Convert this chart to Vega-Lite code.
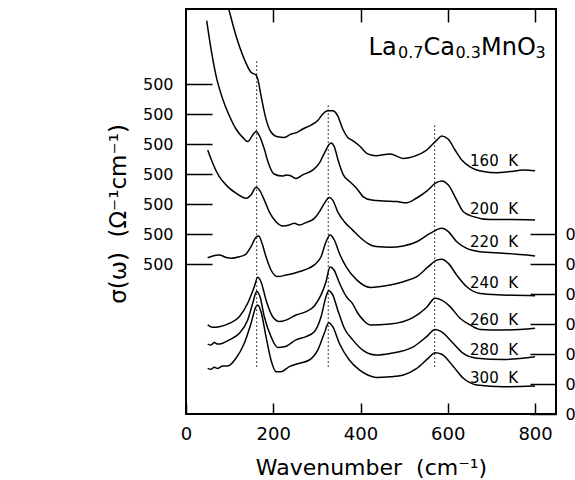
{
"$schema": "https://vega.github.io/schema/vega-lite/v6.json",
"autosize": {"type": "none"},
"padding": {"left": 186, "top": 9, "right": 19, "bottom": 66},
"width": 370,
"height": 405,
"background": "white",
"config": {
  "view": {"stroke": "black", "strokeWidth": 2},
  "axis": {"grid": false, "domain": false, "labelFont": "DejaVu Sans", "titleFont": "DejaVu Sans", "labelColor": "black", "titleColor": "black", "tickColor": "black", "tickWidth": 1.5, "titleFontWeight": "normal", "labelFlush": false},
  "text": {"font": "DejaVu Sans", "color": "black"}
},
"datasets": {
  "curves": [
    {"T":"160","x":96.0,"y":1360},{"T":"160","x":97.9,"y":1350},{"T":"160","x":114.6,"y":1261},{"T":"160","x":133.6,"y":1183},{"T":"160","x":149,"y":1139},{"T":"160","x":160.5,"y":1130},{"T":"160","x":164.4,"y":1117},{"T":"160","x":171.9,"y":1061},{"T":"160","x":183.4,"y":983},{"T":"160","x":194.8,"y":940},{"T":"160","x":210.2,"y":924},{"T":"160","x":225.3,"y":922},{"T":"160","x":240.7,"y":933},{"T":"160","x":252.1,"y":937},{"T":"160","x":267.5,"y":950},{"T":"160","x":286.5,"y":963},{"T":"160","x":301.9,"y":978},{"T":"160","x":313.4,"y":1000},{"T":"160","x":324.8,"y":1011},{"T":"160","x":336.3,"y":1011},{"T":"160","x":347.7,"y":994},{"T":"160","x":359.2,"y":950},{"T":"160","x":370.7,"y":922},{"T":"160","x":382.1,"y":911},{"T":"160","x":397.3,"y":894},{"T":"160","x":416.5,"y":867},{"T":"160","x":435.5,"y":861},{"T":"160","x":467.6,"y":867},{"T":"160","x":498.1,"y":852},{"T":"160","x":521,"y":858},{"T":"160","x":551.7,"y":880},{"T":"160","x":574.7,"y":913},{"T":"160","x":586.1,"y":927},{"T":"160","x":601.3,"y":916},{"T":"160","x":616.6,"y":880},{"T":"160","x":632,"y":847},{"T":"160","x":651,"y":824},{"T":"160","x":681.5,"y":808},{"T":"160","x":712.2,"y":804},{"T":"160","x":742.7,"y":808},{"T":"160","x":773.2,"y":813},{"T":"160","x":800,"y":811},
    {"T":"200","x":47.4,"y":1311},{"T":"200","x":57.3,"y":1217},{"T":"200","x":68.8,"y":1128},{"T":"200","x":84.1,"y":1050},{"T":"200","x":99.3,"y":994},{"T":"200","x":114.6,"y":950},{"T":"200","x":130,"y":922},{"T":"200","x":141.4,"y":908},{"T":"200","x":152.9,"y":930},{"T":"200","x":160.5,"y":942},{"T":"200","x":168,"y":928},{"T":"200","x":179.5,"y":883},{"T":"200","x":188,"y":840},{"T":"200","x":201.7,"y":800},{"T":"200","x":221.7,"y":793},{"T":"200","x":229.2,"y":797},{"T":"200","x":238.4,"y":795},{"T":"200","x":252.1,"y":785},{"T":"200","x":267.5,"y":797},{"T":"200","x":290.4,"y":813},{"T":"200","x":305.6,"y":836},{"T":"200","x":317,"y":869},{"T":"200","x":332.4,"y":903},{"T":"200","x":339.3,"y":893},{"T":"200","x":348.4,"y":847},{"T":"200","x":360.6,"y":797},{"T":"200","x":375.9,"y":774},{"T":"200","x":391.3,"y":752},{"T":"200","x":406.4,"y":724},{"T":"200","x":425.7,"y":713},{"T":"200","x":452.3,"y":710},{"T":"200","x":483,"y":708},{"T":"200","x":505.9,"y":704},{"T":"200","x":528.9,"y":720},{"T":"200","x":551.7,"y":743},{"T":"200","x":574.7,"y":772},{"T":"200","x":586.1,"y":777},{"T":"200","x":601.3,"y":763},{"T":"200","x":620.5,"y":713},{"T":"200","x":635.6,"y":674},{"T":"200","x":658.6,"y":658},{"T":"200","x":696.8,"y":648},{"T":"200","x":742.7,"y":648},{"T":"200","x":800,"y":647},
    {"T":"220","x":49.7,"y":880},{"T":"220","x":61.2,"y":836},{"T":"220","x":76.3,"y":791},{"T":"220","x":95.6,"y":758},{"T":"220","x":114.6,"y":736},{"T":"220","x":137.5,"y":719},{"T":"220","x":149,"y":730},{"T":"220","x":160.5,"y":756},{"T":"220","x":168,"y":747},{"T":"220","x":179.5,"y":713},{"T":"220","x":190.9,"y":674},{"T":"220","x":206.3,"y":641},{"T":"220","x":221.7,"y":627},{"T":"220","x":236.8,"y":630},{"T":"220","x":248.3,"y":636},{"T":"220","x":259.7,"y":630},{"T":"220","x":275.1,"y":638},{"T":"220","x":294.1,"y":652},{"T":"220","x":305.6,"y":674},{"T":"220","x":317,"y":702},{"T":"220","x":328.5,"y":722},{"T":"220","x":336.3,"y":713},{"T":"220","x":347.7,"y":674},{"T":"220","x":362.9,"y":641},{"T":"220","x":382.1,"y":613},{"T":"220","x":397.3,"y":591},{"T":"220","x":416.5,"y":569},{"T":"220","x":435.5,"y":558},{"T":"220","x":467.6,"y":556},{"T":"220","x":498.1,"y":560},{"T":"220","x":528.9,"y":574},{"T":"220","x":559.3,"y":602},{"T":"220","x":586.1,"y":619},{"T":"220","x":601.3,"y":608},{"T":"220","x":620.5,"y":574},{"T":"220","x":643.4,"y":552},{"T":"220","x":673.9,"y":541},{"T":"220","x":727.3,"y":536},{"T":"220","x":800,"y":527},
    {"T":"240","x":49.7,"y":521},{"T":"240","x":61.2,"y":527},{"T":"240","x":76.3,"y":530},{"T":"240","x":91.7,"y":522},{"T":"240","x":103.2,"y":519},{"T":"240","x":122.2,"y":524},{"T":"240","x":137.5,"y":533},{"T":"240","x":149,"y":558},{"T":"240","x":160.5,"y":589},{"T":"240","x":166.7,"y":593},{"T":"240","x":174.2,"y":569},{"T":"240","x":183.4,"y":524},{"T":"240","x":194.8,"y":480},{"T":"240","x":210.2,"y":458},{"T":"240","x":229.2,"y":463},{"T":"240","x":252.1,"y":471},{"T":"240","x":275.1,"y":482},{"T":"240","x":294.1,"y":497},{"T":"240","x":309.5,"y":524},{"T":"240","x":320.9,"y":574},{"T":"240","x":330.1,"y":597},{"T":"240","x":340,"y":580},{"T":"240","x":351.4,"y":536},{"T":"240","x":366.8,"y":491},{"T":"240","x":391.3,"y":447},{"T":"240","x":421.8,"y":422},{"T":"240","x":467.6,"y":430},{"T":"240","x":498.1,"y":441},{"T":"240","x":528.9,"y":458},{"T":"240","x":555.4,"y":491},{"T":"240","x":574.7,"y":513},{"T":"240","x":586.1,"y":516},{"T":"240","x":601.3,"y":502},{"T":"240","x":620.5,"y":463},{"T":"240","x":643.4,"y":424},{"T":"240","x":673.9,"y":402},{"T":"240","x":727.3,"y":397},{"T":"240","x":800,"y":394},
    {"T":"260","x":49.7,"y":297},{"T":"260","x":61.2,"y":289},{"T":"260","x":76.3,"y":291},{"T":"260","x":99.3,"y":302},{"T":"260","x":122.2,"y":324},{"T":"260","x":141.4,"y":369},{"T":"260","x":156.6,"y":424},{"T":"260","x":164.4,"y":456},{"T":"260","x":171.9,"y":441},{"T":"260","x":183.4,"y":380},{"T":"260","x":198.7,"y":324},{"T":"260","x":213.9,"y":308},{"T":"260","x":229.2,"y":313},{"T":"260","x":252.1,"y":330},{"T":"260","x":275.1,"y":341},{"T":"260","x":294.1,"y":360},{"T":"260","x":309.5,"y":397},{"T":"260","x":320.9,"y":441},{"T":"260","x":330.1,"y":490},{"T":"260","x":339.3,"y":480},{"T":"260","x":350.7,"y":440},{"T":"260","x":366.8,"y":393},{"T":"260","x":382.1,"y":367},{"T":"260","x":392,"y":340},{"T":"260","x":406.4,"y":313},{"T":"260","x":421.8,"y":297},{"T":"260","x":467.6,"y":300},{"T":"260","x":521,"y":322},{"T":"260","x":551.7,"y":356},{"T":"260","x":570.8,"y":386},{"T":"260","x":582.2,"y":382},{"T":"260","x":605.2,"y":358},{"T":"260","x":628.1,"y":319},{"T":"260","x":651,"y":297},{"T":"260","x":673.9,"y":282},{"T":"260","x":727.3,"y":280},{"T":"260","x":800,"y":286},
    {"T":"280","x":49.7,"y":233},{"T":"280","x":57.3,"y":230},{"T":"280","x":64.9,"y":238},{"T":"280","x":72.7,"y":233},{"T":"280","x":84.1,"y":236},{"T":"280","x":99.3,"y":247},{"T":"280","x":122.2,"y":269},{"T":"280","x":141.4,"y":313},{"T":"280","x":152.9,"y":369},{"T":"280","x":162.1,"y":408},{"T":"280","x":169.6,"y":391},{"T":"280","x":179.5,"y":324},{"T":"280","x":194.8,"y":258},{"T":"280","x":210.2,"y":222},{"T":"280","x":225.3,"y":224},{"T":"280","x":252.1,"y":247},{"T":"280","x":275.1,"y":258},{"T":"280","x":294.1,"y":274},{"T":"280","x":309.5,"y":324},{"T":"280","x":320.9,"y":391},{"T":"280","x":327.1,"y":411},{"T":"280","x":336.3,"y":397},{"T":"280","x":347.7,"y":347},{"T":"280","x":362.9,"y":286},{"T":"280","x":382.1,"y":247},{"T":"280","x":405,"y":213},{"T":"280","x":435.5,"y":197},{"T":"280","x":467.6,"y":202},{"T":"280","x":521,"y":224},{"T":"280","x":551.7,"y":258},{"T":"280","x":570.8,"y":282},{"T":"280","x":586.1,"y":274},{"T":"280","x":609,"y":241},{"T":"280","x":635.6,"y":202},{"T":"280","x":666.4,"y":186},{"T":"280","x":727.3,"y":182},{"T":"280","x":800,"y":191},
    {"T":"300","x":49.7,"y":152},{"T":"300","x":57.3,"y":149},{"T":"300","x":64.9,"y":156},{"T":"300","x":72.7,"y":152},{"T":"300","x":84.1,"y":160},{"T":"300","x":95.6,"y":160},{"T":"300","x":114.6,"y":186},{"T":"300","x":133.6,"y":236},{"T":"300","x":149,"y":302},{"T":"300","x":160.5,"y":358},{"T":"300","x":164.4,"y":363},{"T":"300","x":171.9,"y":341},{"T":"300","x":183.4,"y":258},{"T":"300","x":194.8,"y":180},{"T":"300","x":206.3,"y":141},{"T":"300","x":217.8,"y":141},{"T":"300","x":236.8,"y":158},{"T":"300","x":259.7,"y":169},{"T":"300","x":282.6,"y":180},{"T":"300","x":301.9,"y":213},{"T":"300","x":317,"y":269},{"T":"300","x":327.1,"y":304},{"T":"300","x":336.3,"y":291},{"T":"300","x":351.4,"y":236},{"T":"300","x":374.3,"y":180},{"T":"300","x":397.3,"y":147},{"T":"300","x":416.5,"y":130},{"T":"300","x":435.5,"y":122},{"T":"300","x":467.6,"y":124},{"T":"300","x":498.1,"y":130},{"T":"300","x":528.9,"y":152},{"T":"300","x":555.4,"y":186},{"T":"300","x":570.8,"y":204},{"T":"300","x":586.1,"y":199},{"T":"300","x":612.7,"y":158},{"T":"300","x":635.6,"y":119},{"T":"300","x":666.4,"y":97},{"T":"300","x":727.3,"y":91},{"T":"300","x":800,"y":93}
  ],
  "labels": [
    {"label":"160\u00a0\u00a0K","x":651,"y":827},
    {"label":"200\u00a0\u00a0K","x":651,"y":667},
    {"label":"220\u00a0\u00a0K","x":651,"y":556},
    {"label":"240\u00a0\u00a0K","x":651,"y":419},
    {"label":"260\u00a0\u00a0K","x":651,"y":297},
    {"label":"280\u00a0\u00a0K","x":651,"y":197},
    {"label":"300\u00a0\u00a0K","x":651,"y":102}
  ],
  "formulaMain": [
    {"label":"La","x":418.5,"y":1196.7},
    {"label":"Ca","x":544.4,"y":1196.7},
    {"label":"MnO","x":676.2,"y":1196.7}
  ],
  "formulaSub": [
    {"label":"0.7","x":486,"y":1185.7},
    {"label":"0.3","x":617.5,"y":1185.7},
    {"label":"3","x":801,"y":1185.7}
  ],
  "dots": [
    {"x":162,"y":157,"y2":1178},
    {"x":326,"y":157,"y2":1036},
    {"x":570,"y":157,"y2":963}
  ]
},
"layer": [
  {
    "encoding": {
      "x": {"field": "x", "type": "quantitative", "scale": {"domain": [0, 848], "nice": false, "zero": false},
            "axis": {"values": [0, 200, 400, 600, 800], "tickSize": -11, "labelPadding": 22, "labelFontSize": 18, "title": "Wavenumber\u00a0\u00a0(cm⁻¹)", "titleFontSize": 22, "titleY": 60, "titleBaseline": "alphabetic"}},
      "y": {"field": "y", "type": "quantitative", "scale": {"domain": [0, 1350], "nice": false, "zero": false},
            "axis": {"values": [500, 600, 700, 800, 900, 1000, 1100], "labelExpr": "'500'", "tickSize": -26, "labelPadding": 39, "labelFontSize": 16, "title": "σ(ω)\u00a0\u00a0(Ω⁻¹cm⁻¹)", "titleFontSize": 23, "titleX": -61, "titleY": 204.5, "titleBaseline": "alphabetic"}}
    },
    "layer": [
      {"data": {"name": "curves"}, "mark": {"type": "line", "color": "black", "strokeWidth": 1.5, "interpolate": "monotone", "clip": true},
       "encoding": {"detail": {"field": "T"}}},
      {"data": {"name": "labels"}, "mark": {"type": "text", "align": "left", "baseline": "alphabetic", "fontSize": 15},
       "encoding": {"text": {"field": "label"}}},
      {"data": {"name": "formulaMain"}, "mark": {"type": "text", "align": "left", "baseline": "alphabetic", "fontSize": 24},
       "encoding": {"text": {"field": "label"}}},
      {"data": {"name": "formulaSub"}, "mark": {"type": "text", "align": "left", "baseline": "alphabetic", "fontSize": 16},
       "encoding": {"text": {"field": "label"}}}
    ]
  },
  {
    "data": {"name": "dots"},
    "mark": {"type": "rule", "color": "black", "strokeWidth": 1, "strokeDash": [1.5, 2.5]},
    "encoding": {
      "x": {"field": "x", "type": "quantitative", "scale": {"domain": [0, 848], "nice": false, "zero": false},
            "axis": {"orient": "top", "values": [200, 400, 600, 800], "tickSize": -13, "labels": false, "title": null}},
      "y": {"field": "y", "type": "quantitative", "scale": {"domain": [0, 1350], "nice": false, "zero": false},
            "axis": {"orient": "right", "values": [0, 100, 200, 300, 400, 500, 600], "labelExpr": "'0'", "tickSize": -26, "labelPadding": 35, "labelFontSize": 16, "title": null}},
      "y2": {"field": "y2"}
    }
  }
],
"resolve": {"scale": {"x": "independent", "y": "independent"}, "axis": {"x": "independent", "y": "independent"}}
}
